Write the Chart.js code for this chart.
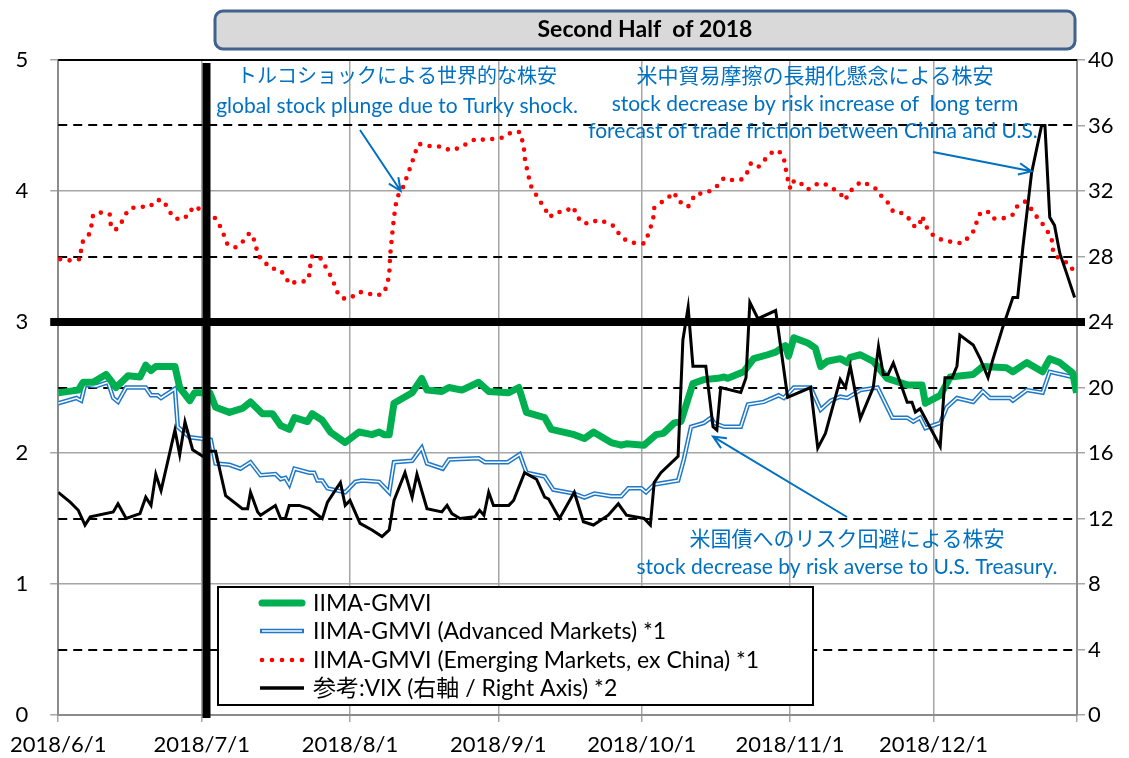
<!DOCTYPE html>
<html>
<head>
<meta charset="utf-8">
<script src="https://cdn.jsdelivr.net/npm/chart.js@4"></script>
<style>
  html, body { margin: 0; padding: 0; background: #fff; }
</style>
</head>
<body>
<canvas id="c" width="1129" height="758"></canvas>
<script>
// x values are days counted from 2018/6/1
var monthDays = [0, 30, 61, 92, 122, 153, 183, 213];
var monthLabels = ['2018/6/1', '2018/7/1', '2018/8/1', '2018/9/1', '2018/10/1', '2018/11/1', '2018/12/1'];

var gmviDay = [0,4.2,5.2,7.3,10,12.1,14.6,17.1,18.3,19.4,20.4,24.4,25.4,27.5,28.5,31.7,32.9,35.8,38.5,40.2,42.7,44.8,46.5,48.3,49.4,52.1,53.1,55.2,56.9,60,62.9,65.6,67.1,68.1,69.2,70.2,74,76,77.1,80.2,81.7,84.4,87.9,90,94.2,96.3,97.9,101.7,103.1,107.9,110,111.9,115.6,117.7,118.8,122.5,125,126.5,128.8,130.2,132.7,135,137.9,139.2,140,143.3,145.4,148.3,150,152,152.7,153.8,156.7,158.3,159.4,160.8,163.5,165,165.6,167.7,170.4,173.3,177.5,180.6,181.3,184.4,186.5,191.3,193.3,198.3,199.6,202.5,205.8,207.3,209.4,212.1,212.9];
var gmviVal = [2.46,2.48,2.54,2.54,2.60,2.50,2.59,2.58,2.67,2.63,2.66,2.66,2.50,2.40,2.46,2.46,2.35,2.31,2.34,2.39,2.30,2.30,2.21,2.18,2.27,2.24,2.30,2.25,2.16,2.08,2.16,2.14,2.16,2.14,2.14,2.38,2.46,2.57,2.48,2.47,2.50,2.48,2.54,2.47,2.46,2.50,2.31,2.27,2.18,2.14,2.11,2.16,2.08,2.06,2.07,2.06,2.14,2.15,2.23,2.24,2.53,2.56,2.57,2.58,2.57,2.62,2.72,2.75,2.77,2.82,2.74,2.88,2.84,2.80,2.66,2.70,2.72,2.69,2.73,2.75,2.70,2.57,2.52,2.52,2.38,2.44,2.58,2.60,2.66,2.65,2.62,2.69,2.62,2.72,2.69,2.61,2.46];

var advDay = [0,3.8,4.8,5.6,7.9,10.4,11.5,12.5,14.2,18.3,19.4,20.8,21.5,24.4,25,27.5,29.6,31.9,32.9,35.8,38.1,40.2,42.3,45.4,46.5,47.5,48.3,49.4,52.5,53.5,54.2,55.2,56.3,60,62.1,63.5,67.1,69.2,70.2,74,76,77.1,80.4,81.7,87.9,89.2,94,96.5,97.9,101.7,103.5,107.9,110,112.1,115.6,117.7,119.2,121.9,122.9,124.6,129.6,130.8,132.3,135,136.5,137.1,139.2,142.7,144.2,147.5,150.6,151.7,153.8,157.3,159.4,161.5,163.5,165,167.7,171.3,174.4,177.5,178.8,180.2,181.3,184.4,185.8,187.9,191.3,193.3,194.8,199,199.6,202.5,205.8,207.3,212.1,212.9];
var advVal = [2.38,2.42,2.40,2.52,2.51,2.54,2.42,2.39,2.50,2.50,2.44,2.44,2.42,2.49,2.20,2.12,2.11,2.10,1.92,1.91,1.88,1.93,1.83,1.84,1.80,1.81,1.76,1.88,1.85,1.85,1.79,1.79,1.73,1.70,1.78,1.79,1.78,1.70,1.93,1.94,2.04,1.92,1.88,1.95,1.96,1.93,1.93,1.99,1.85,1.82,1.72,1.69,1.66,1.69,1.67,1.67,1.73,1.73,1.70,1.76,1.79,1.95,2.20,2.23,2.27,2.23,2.20,2.20,2.37,2.39,2.44,2.42,2.50,2.50,2.33,2.40,2.43,2.42,2.48,2.50,2.27,2.27,2.24,2.27,2.19,2.23,2.35,2.42,2.39,2.47,2.42,2.42,2.40,2.48,2.46,2.62,2.58,2.54];

var emDay = [0.4,2.5,4.6,4.8,5.2,6.7,7.3,9.4,10.8,11,11.9,13.1,14,15.2,17.3,19.2,20.4,21.9,22.9,24,25.6,27.5,28.1,29.8,31.7,32.9,34,34.8,35.4,37.1,38.5,40,40.6,41.3,41.7,43.1,44.4,46.3,47.5,48.3,50,51.9,52.5,52.7,53.1,54.6,55.6,56.7,57.5,58.3,59.4,61,62.9,64.6,66.5,68.1,68.8,69.2,69.4,69.8,70.2,70.8,71.9,72.5,73.3,74,74.6,75.4,76.7,78.1,80.2,81.9,84,85.8,87.5,89.2,91.3,93.3,94.8,96.5,97.3,97.5,97.7,98.3,98.5,99.6,100.6,101.7,102.7,104.2,105.8,107.7,108.3,109.4,111,112.9,114.6,116.3,117.3,118.8,120.8,122.5,123.5,124.4,124.6,126,127.5,128.8,129.6,130.6,131.7,132.3,133.3,135,136.9,138.1,139.2,141.3,143.1,144.2,144.8,146.3,147.5,149,150.6,151.7,152.1,152.5,152.7,153.5,153.8,155.2,156.7,158.3,160,161.9,163.5,164.6,165.2,166.7,167.7,169.4,171.3,172.3,173.5,174.6,176.7,178.1,179.2,180.2,180.6,181.3,182.3,183.8,185.4,187.1,189,190.4,191.7,192.1,192.9,194.6,195.6,197.5,199.6,200.4,202.1,203.1,204.2,205.6,206.7,207.7,207.9,208.3,210,211.5,212.5];
var emVal = [3.48,3.47,3.48,3.56,3.62,3.68,3.82,3.84,3.82,3.74,3.70,3.75,3.82,3.87,3.88,3.88,3.93,3.93,3.87,3.80,3.78,3.82,3.88,3.86,3.82,3.79,3.72,3.65,3.59,3.57,3.61,3.68,3.66,3.59,3.51,3.46,3.41,3.40,3.35,3.29,3.31,3.31,3.36,3.43,3.50,3.50,3.44,3.37,3.31,3.23,3.18,3.18,3.23,3.22,3.20,3.22,3.29,3.36,3.51,3.66,3.80,3.95,4.01,4.07,4.15,4.22,4.29,4.36,4.35,4.34,4.34,4.31,4.33,4.37,4.40,4.39,4.40,4.41,4.45,4.45,4.35,4.27,4.20,4.14,4.06,3.99,3.93,3.87,3.80,3.84,3.84,3.88,3.82,3.76,3.75,3.78,3.76,3.73,3.67,3.62,3.60,3.60,3.68,3.79,3.87,3.91,3.95,3.99,3.92,3.91,3.88,3.92,3.98,3.98,4.01,4.05,4.10,4.08,4.09,4.15,4.21,4.18,4.23,4.29,4.31,4.25,4.17,4.10,4.03,4.02,4.08,4.06,4.01,4.05,4.06,4.02,3.98,3.93,3.99,4.03,4.07,4.05,4.01,3.95,3.91,3.84,3.83,3.78,3.72,3.76,3.81,3.74,3.68,3.64,3.62,3.61,3.60,3.65,3.71,3.78,3.84,3.84,3.79,3.79,3.82,3.88,3.92,3.88,3.82,3.76,3.70,3.64,3.56,3.51,3.47,3.44,3.37];

var vixDay = [0,2.5,4.2,5.6,6.7,11.5,12.5,14.2,17.1,18.3,19.4,20.4,21.5,24.4,25.4,26.5,28.1,30.2,31.7,32.9,35,38.5,39.6,40.2,41.7,42.3,45.4,46.5,47.5,48.3,50.4,52.5,55.2,56.3,59,60,61,63.1,65.6,67.7,69.2,70.2,72.5,74,75,77.1,80.2,81.3,82.3,84,87.1,88.1,89,90,91,94.2,95.2,97.5,100,101.7,102.5,104.8,107.9,109.8,111.9,115,117.1,118.8,122.5,123.8,124.6,126,129.6,130.6,131.7,132.7,135.4,136.9,137.7,138.5,142.7,143.8,144.6,146.3,150,152.5,157.3,158.8,160.4,163.5,164.6,165.6,167.7,170.4,171.5,172.5,173.5,174.6,177.5,178.5,179.2,180.2,184.4,185.4,186.9,187.9,188.5,191.3,192.7,194.4,195.4,197.5,199.6,200.6,201.7,203.5,205.6,206.3,207.3,208.3,209.4,210.8,212.5];
var vixVal = [13.6,13.0,12.5,11.6,12.1,12.4,12.9,12.0,12.3,13.3,12.8,14.7,13.7,17.4,15.9,17.9,16.2,15.8,16.1,16.1,13.4,12.6,12.6,13.6,12.4,12.2,12.8,12.0,12.0,12.8,12.8,12.6,12.0,13.0,14.2,12.8,13.1,11.7,11.3,10.9,11.3,13.1,14.8,13.3,14.7,12.6,12.4,12.8,12.3,12.0,12.1,12.5,12.2,13.6,12.8,12.8,13.1,14.8,14.4,13.3,13.2,12.0,13.6,11.8,11.6,12.2,12.9,12.2,12.0,11.6,14.2,14.8,15.8,22.9,24.9,21.3,21.3,17.6,17.4,20.0,19.7,20.6,25.2,24.2,24.7,19.4,20.0,16.3,17.2,20.5,20.0,21.3,18.1,20.0,22.5,20.8,20.8,21.5,19.1,19.1,18.5,18.7,16.4,20.6,20.6,21.3,23.2,22.6,21.8,20.6,21.7,23.7,25.5,25.5,28.6,33.1,36.0,36.0,30.4,29.9,28.2,27.0,25.5];

var halfLines = [0.5, 1.5, 2.5, 3.5, 4.5];
var markLevel = 3;      // thick horizontal line, left axis
var markDay = 31;       // thick vertical line, 2018/7/2

var legendLabels = [
  'IIMA-GMVI',
  'IIMA-GMVI (Advanced Markets) *1',
  'IIMA-GMVI (Emerging Markets, ex China) *1',
  '参考:VIX (右軸 / Right Axis) *2'
];

var FONT = 'Lato, "Noto Sans CJK JP", sans-serif';
var BLUE = '#0070c0';
var GREEN = '#00b050';
var ADV = '#1f78c8';
var RED = '#ff0000';

Chart.defaults.font.family = FONT;

function pts(days, vals) {
  return days.map(function (d, i) { return { x: d, y: vals[i] }; });
}

function arrow(ctx, x1, y1, x2, y2) {
  var a = Math.atan2(y2 - y1, x2 - x1), L = 14, w = 0.42;
  ctx.beginPath();
  ctx.moveTo(x1, y1);
  ctx.lineTo(x2, y2);
  ctx.moveTo(x2 - L * Math.cos(a - w), y2 - L * Math.sin(a - w));
  ctx.lineTo(x2, y2);
  ctx.lineTo(x2 - L * Math.cos(a + w), y2 - L * Math.sin(a + w));
  ctx.stroke();
}

var decor = {
  id: 'decor',
  beforeDatasetsDraw: function (chart) {
    var ctx = chart.ctx, a = chart.chartArea, y = chart.scales.y;
    ctx.save();
    ctx.strokeStyle = '#000';
    ctx.lineWidth = 2;
    ctx.setLineDash([9, 6]);
    halfLines.forEach(function (v) {
      var py = Math.round(y.getPixelForValue(v));
      ctx.beginPath();
      ctx.moveTo(a.left, py);
      ctx.lineTo(a.right, py);
      ctx.stroke();
    });
    ctx.restore();
  },
  afterDatasetsDraw: function (chart) {
    var ctx = chart.ctx, a = chart.chartArea;
    var x = chart.scales.x, y = chart.scales.y, y1 = chart.scales.y1;
    ctx.save();

    // top border
    ctx.strokeStyle = '#000';
    ctx.lineWidth = 2;
    ctx.beginPath();
    ctx.moveTo(a.left, a.top);
    ctx.lineTo(a.right, a.top);
    ctx.stroke();

    // thick marker lines
    ctx.lineWidth = 8;
    var py = y.getPixelForValue(markLevel);
    ctx.beginPath();
    ctx.moveTo(a.left - 8, py);
    ctx.lineTo(a.right + 8, py);
    ctx.stroke();
    var px = x.getPixelForValue(markDay);
    ctx.beginPath();
    ctx.moveTo(px, a.top + 3);
    ctx.lineTo(px, a.bottom + 3);
    ctx.stroke();

    // title box
    ctx.fillStyle = '#d9d9d9';
    ctx.strokeStyle = '#41618f';
    ctx.lineWidth = 3;
    ctx.beginPath();
    ctx.roundRect(215, 11, 860, 38, 8);
    ctx.fill();
    ctx.stroke();
    ctx.fillStyle = '#000';
    ctx.font = 'bold 23px ' + FONT;
    ctx.textAlign = 'center';
    ctx.textBaseline = 'middle';
    ctx.fillText('Second Half  of 2018', 645, 30);

    // annotations
    ctx.fillStyle = BLUE;
    ctx.font = '20px ' + FONT;
    ctx.fillText('トルコショックによる世界的な株安', 397, 77);
    ctx.font = '21px ' + FONT;
    ctx.fillText('global stock plunge due to Turky shock.', 397, 106);

    ctx.font = '21px ' + FONT;
    ctx.fillText('米中貿易摩擦の長期化懸念による株安', 815, 76);
    ctx.font = '21px ' + FONT;
    ctx.fillText('stock decrease by risk increase of  long term', 815, 104);
    ctx.fillText('forecast of trade friction between China and U.S.', 813, 131);

    ctx.font = '21px ' + FONT;
    ctx.fillText('米国債へのリスク回避による株安', 847, 539);
    ctx.fillText('stock decrease by risk averse to U.S. Treasury.', 847, 567);

    ctx.strokeStyle = BLUE;
    ctx.lineWidth = 2;
    arrow(ctx, 360, 130, x.getPixelForValue(71.6), y.getPixelForValue(4.0));
    arrow(ctx, 933, 152, x.getPixelForValue(203.5), y1.getPixelForValue(33.2));
    arrow(ctx, 847, 517, x.getPixelForValue(136.9), y1.getPixelForValue(17.0));

    // legend
    ctx.fillStyle = '#fff';
    ctx.fillRect(218, 587, 595, 118);
    ctx.strokeStyle = '#000';
    ctx.lineWidth = 2;
    ctx.strokeRect(218, 587, 595, 118);
    var rows = [603, 631, 660, 688];
    ctx.lineCap = 'round';
    // green
    ctx.strokeStyle = GREEN; ctx.lineWidth = 7;
    ctx.beginPath(); ctx.moveTo(262, rows[0]); ctx.lineTo(302, rows[0]); ctx.stroke();
    // advanced (double line)
    ctx.lineCap = 'butt';
    ctx.strokeStyle = ADV; ctx.lineWidth = 4.5;
    ctx.beginPath(); ctx.moveTo(260, rows[1]); ctx.lineTo(304, rows[1]); ctx.stroke();
    ctx.strokeStyle = '#fff'; ctx.lineWidth = 1.5;
    ctx.beginPath(); ctx.moveTo(262, rows[1]); ctx.lineTo(302, rows[1]); ctx.stroke();
    // emerging (dots)
    ctx.fillStyle = RED;
    for (var i = 0; i < 5; i++) {
      ctx.beginPath(); ctx.arc(262 + i * 10, rows[2], 2.3, 0, Math.PI * 2); ctx.fill();
    }
    // vix
    ctx.strokeStyle = '#000'; ctx.lineWidth = 3.5;
    ctx.beginPath(); ctx.moveTo(260, rows[3]); ctx.lineTo(304, rows[3]); ctx.stroke();

    ctx.fillStyle = '#000';
    ctx.font = '23px ' + FONT;
    ctx.textAlign = 'left';
    legendLabels.forEach(function (t, k) { ctx.fillText(t, 313, rows[k] + 1); });

    ctx.restore();
  }
};

new Chart(document.getElementById('c').getContext('2d'), {
  type: 'line',
  data: {
    datasets: [
      { label: 'VIX', data: pts(vixDay, vixVal), yAxisID: 'y1',
        borderColor: '#000', borderWidth: 3, pointRadius: 0, fill: false },
      { label: 'IIMA-GMVI', data: pts(gmviDay, gmviVal), yAxisID: 'y',
        borderColor: GREEN, borderWidth: 7, borderJoinStyle: 'round', pointRadius: 0, fill: false },
      { label: 'adv-inner', data: pts(advDay, advVal), yAxisID: 'y',
        borderColor: '#fff', borderWidth: 1.5, pointRadius: 0, fill: false },
      { label: 'IIMA-GMVI (Advanced Markets)', data: pts(advDay, advVal), yAxisID: 'y',
        borderColor: ADV, borderWidth: 4.5, pointRadius: 0, fill: false },
      { label: 'IIMA-GMVI (Emerging Markets, ex China)', data: pts(emDay, emVal), yAxisID: 'y',
        borderColor: RED, borderWidth: 4.6, borderDash: [0, 9.5], borderCapStyle: 'round',
        pointRadius: 0, fill: false }
    ]
  },
  options: {
    responsive: false,
    animation: false,
    layout: { padding: { top: 60, left: 0, right: 0, bottom: 0 } },
    plugins: { legend: { display: false }, tooltip: { enabled: false } },
    elements: { line: { tension: 0 } },
    scales: {
      x: {
        type: 'linear', min: 0, max: 213,
        afterBuildTicks: function (s) { s.ticks = monthDays.map(function (v) { return { value: v }; }); },
        afterFit: function (s) { s.height = 43; },
        ticks: {
          autoSkip: false, maxRotation: 0, padding: 10, color: '#000', font: { size: 22 },
          callback: function (v, i) { return monthLabels[i] || ''; }
        },
        grid: { color: '#a6a6a6', lineWidth: 1.5, tickLength: 7, tickColor: '#a6a6a6' },
        border: { color: '#8c8c8c', width: 2 }
      },
      y: {
        position: 'left', min: 0, max: 5,
        afterFit: function (s) { s.width = 55; },
        ticks: { stepSize: 1, padding: 22, color: '#000', font: { size: 22 } },
        grid: { color: '#a6a6a6', lineWidth: 1.5, tickLength: 8, tickColor: '#a6a6a6' },
        border: { color: '#8c8c8c', width: 2 }
      },
      y1: {
        position: 'right', min: 0, max: 40,
        afterFit: function (s) { s.width = 52; },
        ticks: { stepSize: 4, padding: 3, color: '#000', font: { size: 22 } },
        grid: { drawOnChartArea: false, tickLength: 8, tickColor: '#a6a6a6', lineWidth: 1.5 },
        border: { color: '#8c8c8c', width: 2 }
      }
    }
  },
  plugins: [decor]
});
</script>
</body>
</html>
